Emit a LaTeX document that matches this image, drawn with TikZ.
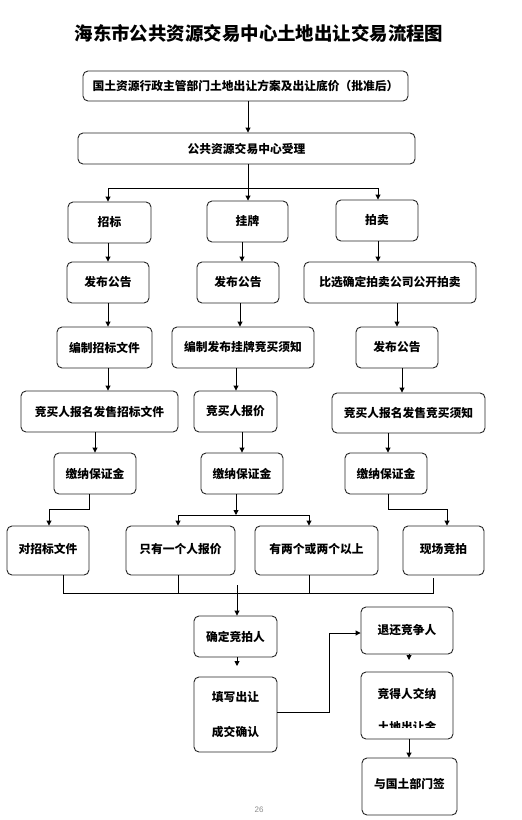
\documentclass[tikz,border=0pt]{standalone}
\usepackage{fontspec}
\newfontfamily\cjk{Noto Sans CJK SC}
\newfontfamily\pnum{Liberation Sans}
\usetikzlibrary{arrows.meta}
\begin{document}
\begin{tikzpicture}[x=1bp,y=-1bp,
  box/.style={draw=black!85, line width=0.9bp, rounded corners=5bp, inner sep=0pt,
    font=\cjk\bfseries\fontsize{11.8}{13}\selectfont, align=center},
  ln/.style={draw=black, line width=0.9bp},
  arr/.style={ln, -{Triangle[length=5bp,width=5bp]}}]
\useasboundingbox (0,0) rectangle (522,820);
\fill[white] (0,0) rectangle (522,820);

\node[font=\cjk\bfseries\fontsize{18.5}{20}\selectfont] (title) at (259,33) {海东市公共资源交易中心土地出让交易流程图};

\node[box, minimum width=325bp, minimum height=30bp] (top1) at (245.5,86) {国土资源行政主管部门土地出让方案及出让底价（批准后）};
\node[box, minimum width=337bp, minimum height=31bp] (top2) at (246.5,148.5) {公共资源交易中心受理};

\node[box, minimum width=83bp, minimum height=41bp] (zb) at (109.5,222.5) {招标};
\node[box, minimum width=81bp, minimum height=41bp] (gp) at (247.5,221.5) {挂牌};
\node[box, minimum width=82bp, minimum height=41bp] (pm) at (377,220.5) {拍卖};

\node[box, minimum width=82bp, minimum height=41bp] (r2a) at (108,282.5) {发布公告};
\node[box, minimum width=82bp, minimum height=41bp] (r2b) at (238,282.5) {发布公告};
\node[box, minimum width=172bp, minimum height=41bp] (r2c) at (390,282.5) {比选确定拍卖公司公开拍卖};

\node[box, minimum width=95bp, minimum height=41bp] (r3a) at (104.5,347.5) {编制招标文件};
\node[box, minimum width=142bp, minimum height=41bp] (r3b) at (243,347.5) {编制发布挂牌竞买须知};
\node[box, minimum width=82bp, minimum height=41bp] (r3c) at (397,347.5) {发布公告};

\node[box, minimum width=157bp, minimum height=41bp] (r4a) at (99.5,411.5) {\raisebox{1bp}{竞买人报名发售招标文件}};
\node[box, minimum width=83bp, minimum height=41bp] (r4b) at (235.5,411.5) {\raisebox{1bp}{竞买人报价}};
\node[box, minimum width=153bp, minimum height=40bp] (r4c) at (408.5,413) {\raisebox{1bp}{竞买人报名发售竞买须知}};

\node[box, minimum width=82bp, minimum height=41bp] (r5a) at (95,473.5) {缴纳保证金};
\node[box, minimum width=82bp, minimum height=41bp] (r5b) at (242,473.5) {缴纳保证金};
\node[box, minimum width=82bp, minimum height=41bp] (r5c) at (386,473.5) {缴纳保证金};

\node[box, minimum width=82bp, minimum height=49bp] (r6a) at (48,550.5) {\raisebox{4bp}{对招标文件}};
\node[box, minimum width=109bp, minimum height=49bp] (r6b) at (180.5,550.5) {\raisebox{4bp}{只有一个人报价}};
\node[box, minimum width=123bp, minimum height=49bp] (r6c) at (316.5,550.5) {\raisebox{4bp}{有两个或两个以上}};
\node[box, minimum width=81bp, minimum height=49bp] (r6d) at (443.5,550.5) {\raisebox{4bp}{现场竞拍}};

\node[box, minimum width=83bp, minimum height=41bp] (qd) at (235.5,636.5) {确定竞拍人};
\node[box, minimum width=83bp, minimum height=75bp] (tx) at (235.5,714.5) {填写出让\\[22bp]成交确认};
\node[box, minimum width=92bp, minimum height=47bp] (th) at (407,630.5) {\raisebox{3bp}{退还竞争人}};
\node[box, minimum width=92bp, minimum height=67bp] (jd) at (407,705.5) {};
\node[font=\cjk\bfseries\fontsize{11.8}{13}\selectfont] (jdt) at (407,694) {竞得人交纳};
\begin{scope}
\clip (361,700) rectangle (453,727.5);
\node[font=\cjk\bfseries\fontsize{11.8}{13}\selectfont] (jdt2) at (407,727) {土地出让金};
\end{scope}
\node[box, minimum width=95bp, minimum height=57bp] (yg) at (409.5,786.5) {\raisebox{6bp}{与国土部门签}};

\node[font=\pnum\fontsize{8}{9}\selectfont, text=black!45] (pg) at (259,810) {26};

% x positions
\path (248,0) coordinate (x248) (108,0) coordinate (x108) (378,0) coordinate (x378)
      (242,0) coordinate (x242) (240,0) coordinate (x240) (397,0) coordinate (x397)
      (236,0) coordinate (x236) (402,0) coordinate (x402) (95,0) coordinate (x95)
      (388,0) coordinate (x388) (89,0) coordinate (x89) (49,0) coordinate (x49)
      (447,0) coordinate (x447) (178,0) coordinate (x178) (309,0) coordinate (x309)
      (63,0) coordinate (x63) (433,0) coordinate (x433) (237,0) coordinate (x237)
      (409,0) coordinate (x409);

\draw[arr] (top1.south -| x248) -- (top2.north -| x248);
\draw[arr] (top2.south -| x248) -- (gp.north -| x248);
\coordinate (bl) at (108,188);
\coordinate (br) at (378,188);
\draw[ln] (bl) -- (br);
\draw[arr] (bl) -- (zb.north -| bl);
\draw[arr] (br) -- (pm.north -| br);

\draw[arr] (zb.south -| x108) -- (r2a.north -| x108);
\draw[arr] (gp.south -| x242) -- (r2b.north -| x242);
\draw[arr] (pm.south -| x378) -- (r2c.north -| x378);

\draw[arr] (r2a.south -| x108) -- (r3a.north -| x108);
\draw[arr] (r2b.south -| x240) -- (r3b.north -| x240);
\draw[arr] (r2c.south -| x397) -- (r3c.north -| x397);

\draw[arr] (r3a.south -| x108) -- (r4a.north -| x108);
\draw[arr] (r3b.south -| x236) -- (r4b.north -| x236);
\draw[arr] (r3c.south -| x402) -- (r4c.north -| x402);

\draw[arr] (r4a.south -| x95) -- (r5a.north -| x95);
\draw[arr] (r4b.south -| x242) -- (r5b.north -| x242);
\draw[arr] (r4c.south -| x388) -- (r5c.north -| x388);

\draw[arr] (r5a.south -| x89) -- (89,509) -- (49,509) -- (r6a.north -| x49);
\draw[arr] (r5c.south -| x388) -- (388,509) -- (447,509) -- (r6d.north -| x447);
\coordinate (ml) at (178,515);
\coordinate (mr) at (309,515);
\draw[arr] (r5b.south -| x236) -- (236,515);
\draw[ln] (ml) -- (mr);
\draw[arr] (ml) -- (r6b.north -| ml);
\draw[arr] (mr) -- (r6c.north -| mr);

\coordinate (jl) at (63,593);
\coordinate (jr) at (433,593);
\draw[ln] (r6a.south -| x63) -- (jl) -- (jr) -- (433,578);
\draw[ln] (r6b.south -| x178) -- (178,593);
\draw[ln] (r6c.south -| x309) -- (309,593);
\draw[arr] (237,585) -- (qd.north -| x237);
\coordinate (qe) at (237,666);
\draw[arr] (qd.south -| x237) -- (qe);
\draw[arr] (tx.east |- 0,712) -- (329,712) -- (329,633) -- (th.west |- 0,633);
\coordinate (te) at (409,660);
\draw[arr] (th.south -| x409) -- (te);
\draw[arr] (jd.south -| x409) -- (yg.north -| x409);
\end{tikzpicture}
\end{document}
